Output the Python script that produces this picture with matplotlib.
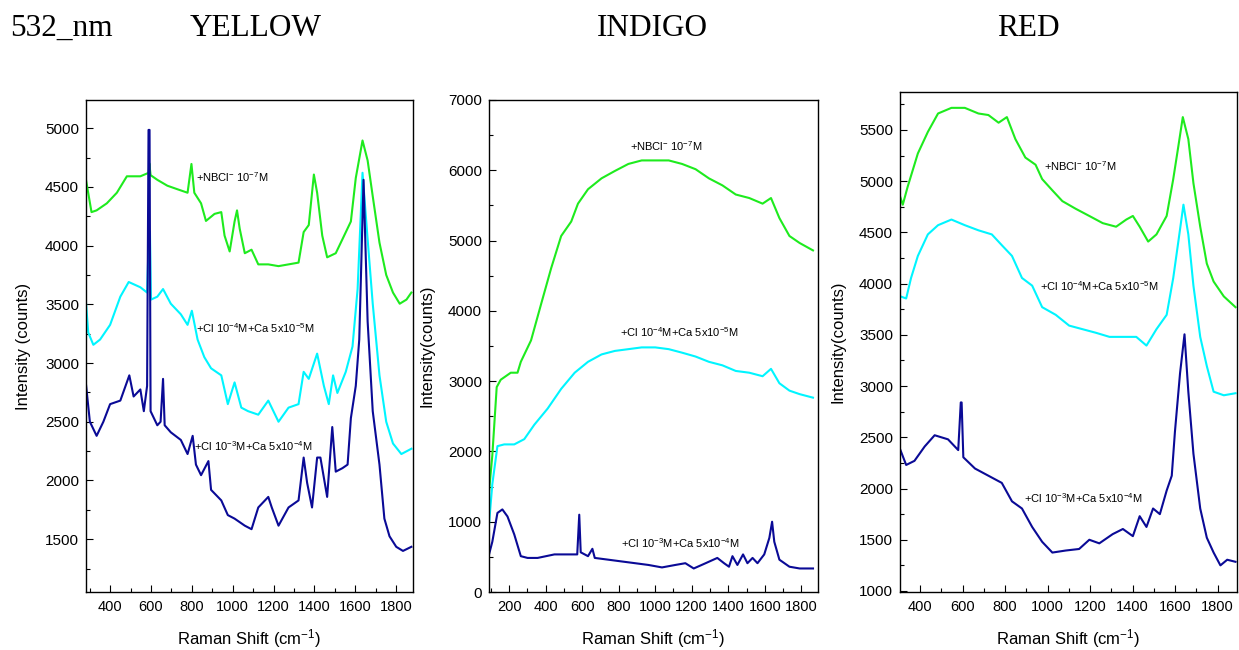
#!/usr/bin/env python3

import matplotlib
matplotlib.use("Agg")
import matplotlib.pyplot as plt
from matplotlib.ticker import MultipleLocator

plt.rcParams['font.family'] = ['Liberation Sans', 'DejaVu Sans']
plt.rcParams['mathtext.default'] = 'regular'

#- YELLOW panel
y_green_x = [281, 309, 334, 384, 433, 482, 548, 589, 592, 598, 631, 680, 729, 779, 798, 812, 845, 869, 911, 944,
             960, 985, 1009, 1021, 1034, 1059, 1092, 1125, 1174, 1224, 1273, 1322, 1347, 1372, 1397, 1413, 1438,
             1462, 1504, 1537, 1578, 1602, 1635, 1660, 1685, 1718, 1751, 1784, 1817, 1850, 1874]
y_green_y = [4570, 4285, 4300, 4360, 4450, 4590, 4590, 4620, 4700, 4600, 4560, 4510, 4480, 4450, 4695, 4450, 4360,
             4210, 4270, 4285, 4085, 3950, 4205, 4300, 4145, 3935, 3965, 3840, 3840, 3825, 3840, 3855, 4115, 4175,
             4605, 4450, 4085, 3900, 3935, 4055, 4205, 4575, 4895, 4725, 4420, 4025, 3750, 3600, 3505, 3540, 3600]
y_cyan_x = [281, 293, 318, 351, 400, 450, 491, 548, 581, 589, 595, 600, 631, 659, 697, 746, 779, 800, 828, 861, 894,
            944, 976, 1009, 1042, 1075, 1125, 1174, 1224, 1273, 1322, 1347, 1372, 1413, 1446, 1470, 1491, 1512,
            1553, 1586, 1611, 1635, 1660, 1685, 1718, 1751, 1784, 1825, 1874]
y_cyan_y = [3540, 3260, 3155, 3200, 3325, 3565, 3690, 3645, 3600, 4055, 4120, 3540, 3565, 3630, 3505, 3415, 3325,
            3445, 3200, 3050, 2955, 2895, 2650, 2835, 2620, 2590, 2560, 2680, 2500, 2620, 2650, 2925, 2865, 3080,
            2805, 2650, 2895, 2745, 2925, 3140, 3630, 4620, 4055, 3505, 2895, 2500, 2315, 2225, 2270]
y_navy_x = [281, 301, 334, 367, 400, 450, 494, 515, 548, 565, 581, 588, 593, 598, 631, 647, 659, 667, 697, 746, 779,
            804, 820, 845, 881, 894, 944, 976, 1009, 1059, 1092, 1125, 1174, 1191, 1224, 1273, 1322, 1347, 1364,
            1388, 1413, 1429, 1462, 1487, 1504, 1537, 1562, 1578, 1602, 1619, 1640, 1660, 1685, 1718, 1742, 1767,
            1800, 1833, 1874]
y_navy_y = [2835, 2500, 2380, 2500, 2650, 2680, 2895, 2715, 2775, 2590, 2805, 4985, 4985, 2590, 2470, 2500, 2865,
            2470, 2410, 2345, 2225, 2380, 2135, 2045, 2165, 1920, 1830, 1705, 1675, 1615, 1585, 1770, 1860, 1770,
            1615, 1770, 1830, 2195, 1980, 1770, 2195, 2195, 1860, 2455, 2075, 2105, 2135, 2530, 2805, 3200, 4560,
            3355, 2590, 2135, 1675, 1525, 1435, 1400, 1435]

#- INDIGO panel
i_green_x = [90, 108, 132, 154, 209, 246, 264, 320, 375, 430, 485, 540, 577, 632, 706, 779, 853, 926, 1000, 1074,
             1147, 1221, 1294, 1368, 1441, 1515, 1588, 1634, 1680, 1735, 1791, 1864]
i_green_y = [1430, 1945, 2915, 3020, 3120, 3120, 3275, 3580, 4095, 4605, 5065, 5270, 5525, 5730, 5885, 5990, 6090,
             6140, 6140, 6140, 6090, 6015, 5885, 5785, 5655, 5605, 5525, 5605, 5320, 5065, 4965, 4860]
i_cyan_x = [90, 108, 136, 173, 228, 283, 338, 411, 485, 559, 632, 706, 779, 853, 926, 1000, 1074, 1147, 1221, 1294,
            1368, 1441, 1515, 1588, 1634, 1680, 1735, 1791, 1864]
i_cyan_y = [970, 1535, 2075, 2100, 2100, 2175, 2380, 2610, 2890, 3120, 3275, 3380, 3430, 3455, 3480, 3480, 3455,
            3405, 3350, 3275, 3225, 3145, 3120, 3070, 3175, 2970, 2865, 2815, 2765]
i_navy_x = [90, 108, 136, 163, 191, 228, 264, 301, 356, 448, 540, 573, 584, 592, 632, 656, 669, 743, 816, 890, 963,
            1037, 1110, 1165, 1211, 1276, 1340, 1377, 1404, 1423, 1450, 1481, 1505, 1533, 1560, 1597, 1625, 1640,
            1652, 1680, 1735, 1791, 1864]
i_navy_y = [535, 715, 1125, 1175, 1075, 820, 510, 485, 485, 535, 535, 535, 1100, 565, 510, 615, 485, 460, 435, 410,
            385, 350, 385, 410, 335, 410, 485, 410, 360, 510, 385, 535, 410, 485, 410, 535, 770, 1000, 715, 460, 360,
            335, 335]

#- RED panel
r_green_x = [307, 318, 341, 389, 436, 484, 547, 610, 674, 721, 769, 808, 848, 895, 943, 974, 1022, 1069, 1132,
             1196, 1259, 1322, 1370, 1401, 1433, 1473, 1512, 1560, 1591, 1615, 1636, 1662, 1686, 1718, 1749, 1781,
             1829, 1884]
r_green_y = [4840, 4770, 4945, 5270, 5480, 5660, 5715, 5715, 5660, 5645, 5570, 5625, 5410, 5230, 5160, 5020, 4910,
             4805, 4730, 4660, 4590, 4555, 4625, 4660, 4555, 4410, 4480, 4660, 5020, 5340, 5625, 5410, 4980, 4555,
             4195, 4020, 3875, 3770]
r_cyan_x = [307, 334, 357, 389, 436, 484, 547, 610, 674, 737, 784, 832, 879, 927, 974, 1038, 1101, 1164, 1227, 1291,
            1354, 1417, 1465, 1512, 1560, 1591, 1615, 1639, 1662, 1686, 1718, 1749, 1781, 1829, 1884]
r_cyan_y = [3875, 3855, 4055, 4270, 4480, 4570, 4625, 4570, 4520, 4480, 4375, 4270, 4055, 3980, 3770, 3695, 3590,
            3555, 3520, 3480, 3480, 3480, 3395, 3555, 3695, 4055, 4410, 4770, 4480, 3980, 3480, 3195, 2945, 2910,
            2930]
r_navy_x = [307, 334, 373, 421, 468, 531, 579, 591, 595, 603, 658, 721, 784, 832, 879, 927, 974, 1022, 1085, 1148,
            1196, 1243, 1306, 1354, 1401, 1433, 1465, 1496, 1528, 1560, 1584, 1599, 1623, 1644, 1662, 1686, 1718,
            1749, 1781, 1813, 1845, 1884]
r_navy_y = [2375, 2230, 2270, 2410, 2520, 2480, 2375, 2840, 2840, 2305, 2195, 2125, 2055, 1875, 1805, 1625, 1480,
            1375, 1395, 1410, 1500, 1465, 1555, 1605, 1535, 1730, 1625, 1805, 1750, 1980, 2125, 2555, 3125, 3505,
            2945, 2340, 1805, 1520, 1375, 1250, 1305, 1285]

labels = ["+NBCl$^{-}$ 10$^{-7}$M", "+Cl 10$^{-4}$M+Ca 5x10$^{-5}$M", "+Cl 10$^{-3}$M+Ca 5x10$^{-4}$M"]
colors = ['#1EEB1E', '#00F5FF', '#0A0A96']

panels = [
    dict(rect=[0.0694, 0.0892, 0.2636, 0.757], xlim=(282, 1880), ylim=(1050, 5240),
         xmaj=200, ymaj=500, ylabel="Intensity (counts)",
         series=[(y_green_x, y_green_y), (y_cyan_x, y_cyan_y), (y_navy_x, y_navy_y)],
         text=[(818, 4580), (818, 3300), (810, 2295)]),
    dict(rect=[0.3947, 0.0892, 0.2656, 0.757], xlim=(90, 1892), ylim=(0, 7000),
         xmaj=200, ymaj=1000, ylabel="Intensity(counts)",
         series=[(i_green_x, i_green_y), (i_cyan_x, i_cyan_y), (i_navy_x, i_navy_y)],
         text=[(863, 6340), (808, 3700), (810, 700)]),
    dict(rect=[0.7264, 0.0892, 0.2718, 0.7693], xlim=(305, 1890), ylim=(990, 5870),
         xmaj=200, ymaj=500, ylabel="Intensity(counts)",
         series=[(r_green_x, r_green_y), (r_cyan_x, r_cyan_y), (r_navy_x, r_navy_y)],
         text=[(985, 5150), (962, 3980), (887, 1905)]),
]

fig = plt.figure(figsize=(12.39, 6.5), dpi=100)

for p in panels:
    ax = fig.add_axes(p['rect'])
    for (xs, ys), c in zip(p['series'], colors):
        ax.plot(xs, ys, color=c, lw=1.5)
    for (tx, ty), lab in zip(p['text'], labels):
        ax.text(tx, ty, lab, fontsize=8, va='center', ha='left')
    ax.set_xlim(*p['xlim'])
    ax.set_ylim(*p['ylim'])
    ax.xaxis.set_major_locator(MultipleLocator(p['xmaj']))
    ax.xaxis.set_minor_locator(MultipleLocator(p['xmaj'] / 2))
    ax.yaxis.set_major_locator(MultipleLocator(p['ymaj']))
    ax.yaxis.set_minor_locator(MultipleLocator(p['ymaj'] / 2))
    ax.tick_params(which='both', direction='in', top=False, right=False, width=0.8)
    ax.tick_params(axis='x', labelsize=10.5, pad=6)
    ax.tick_params(axis='y', labelsize=11, pad=5)
    ax.tick_params(which='major', length=5)
    ax.tick_params(which='minor', length=3)
    ax.set_xlabel("Raman Shift (cm$^{-1}$)", fontsize=12, labelpad=9)
    ax.set_ylabel(p['ylabel'], fontsize=12, labelpad=10)
    for s in ax.spines.values():
        s.set_linewidth(1.0)

#- panel titles
serif = ['Liberation Serif', 'DejaVu Serif']
for x, t in [(10, "532_nm"), (190, "YELLOW"), (597, "INDIGO"), (997, "RED")]:
    fig.text(x / 1239, 1 - 28 / 650, t, family=serif, fontsize=22.5, va='center', ha='left')

plt.savefig("out.png", dpi=100)
